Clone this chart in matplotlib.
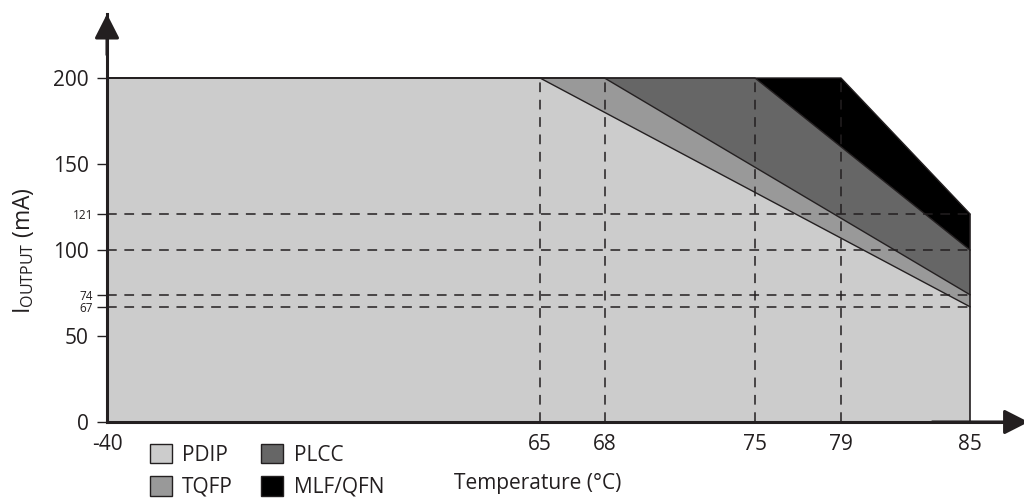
"""Output current derating by package vs temperature."""

import numpy as np
import matplotlib
matplotlib.use("Agg")
import matplotlib.pyplot as plt
from matplotlib.patches import Patch

plt.rcParams["font.family"] = ["Open Sans", "DejaVu Sans"]
plt.rcParams["mathtext.default"] = "regular"
plt.rcParams["lines.scale_dashes"] = False

# data
packages = ["PDIP", "TQFP", "PLCC", "MLF/QFN"]
derate_start = [65, 68, 75, 79]      # deg C where derating begins
current_at_85 = [67, 74, 100, 121]   # mA at 85 deg C
colors = ["#cccccc", "#999999", "#666666", "#000000"]
x_ticks = [-40, 65, 68, 75, 79, 85]
y_major = [0, 50, 100, 150, 200]
y_minor = [67, 74, 121]
t_min, t_max, i_max = -40, 85, 200

INK = "#231f20"
FS = 15

# broken x scale: -40..65 compressed, 65..85 stretched
k1 = (540 - 107) / 105.0
k2 = 21.5


def fwd(x):
    x = np.asarray(x, dtype=float)
    return np.where(x <= 65, 107 + (x + 40) * k1, 540 + (x - 65) * k2)


def inv(p):
    p = np.asarray(p, dtype=float)
    return np.where(p <= 540, (p - 107) / k1 - 40, (p - 540) / k2 + 65)


fig = plt.figure(figsize=(10.24, 4.99), dpi=100)
ax = fig.add_axes([107 / 1024, 77 / 499, (1024 - 107) / 1024, 408 / 499])
ax.set_xscale("function", functions=(fwd, inv))
ax.set_xlim(-40, float(inv(1024)))
ax.set_ylim(0, (422 - 14) / 1.72)

xs = np.array(x_ticks, dtype=float)
curves = [np.interp(xs, [t_min, s, t_max], [i_max, i_max, e])
          for s, e in zip(derate_start, current_at_85)]

lower = np.zeros_like(xs)
for c, col in zip(curves, colors):
    ax.fill_between(xs, lower, c, facecolor=col, edgecolor="none", zorder=1)
    lower = c
for c in curves:
    ax.plot(xs, c, color=INK, lw=1.0, zorder=3)
ax.vlines(t_max, 0, current_at_85[-1], color=INK, lw=1.2, zorder=3)

dash = (0, (7, 5.5))
ax.hlines(current_at_85, t_min, t_max, color=INK, lw=1.1, linestyles=[dash], zorder=2)
ax.vlines(derate_start, 0, i_max, color=INK, lw=1.1, linestyles=[dash], zorder=2)

for s in ["top", "right"]:
    ax.spines[s].set_visible(False)
for s in ["left", "bottom"]:
    ax.spines[s].set_linewidth(2.2)
    ax.spines[s].set_color(INK)
    ax.spines[s].set_zorder(4)

arrow = dict(arrowstyle="-|>,head_length=0.55,head_width=0.28", color=INK,
             lw=2.2, mutation_scale=27, shrinkA=0, shrinkB=0)
ax.annotate("", xy=(0, 1), xytext=(0, 0.9), xycoords="axes fraction", arrowprops=arrow)
ax.annotate("", xy=(1.005, 0), xytext=(0.9, 0), xycoords="axes fraction", arrowprops=arrow)

ax.set_yticks(y_major)
ax.set_yticks(y_minor, minor=True)
ax.set_yticklabels([str(v) for v in y_minor], minor=True)
ax.tick_params(axis="y", which="major", length=7, width=1, color=INK,
               labelsize=FS, labelcolor=INK, pad=6)
ax.tick_params(axis="y", which="minor", length=7, width=1, color=INK,
               labelsize=8.5, labelcolor=INK, pad=3)

ax.set_xticks(x_ticks)
ax.set_xticklabels([str(v) for v in x_ticks])
ax.xaxis.set_minor_locator(matplotlib.ticker.NullLocator())
ax.tick_params(axis="x", which="major", length=0, labelsize=FS, labelcolor=INK, pad=9)

fig.text(23 / 1024, 1 - 251 / 499, r"$I_{OUTPUT}$ (mA)", rotation=90,
         ha="center", va="center", fontsize=16.5, color=INK)
fig.text(538 / 1024, 1 - 483 / 499, "Temperature (°C)", ha="center", va="center",
         fontsize=FS, color=INK)

handles = [Patch(facecolor=c, edgecolor=INK, lw=1) for c in colors]
fig.legend(handles, packages, ncol=2, frameon=False, fontsize=FS,
           loc="upper left", bbox_to_anchor=(150 / 1024, 1 - 444 / 499),
           borderaxespad=0, borderpad=0, handlelength=1.05, handleheight=1.05,
           handletextpad=0.5, labelspacing=0.5, columnspacing=1.35,
           labelcolor=INK)

fig.savefig("out.png", dpi=100)
